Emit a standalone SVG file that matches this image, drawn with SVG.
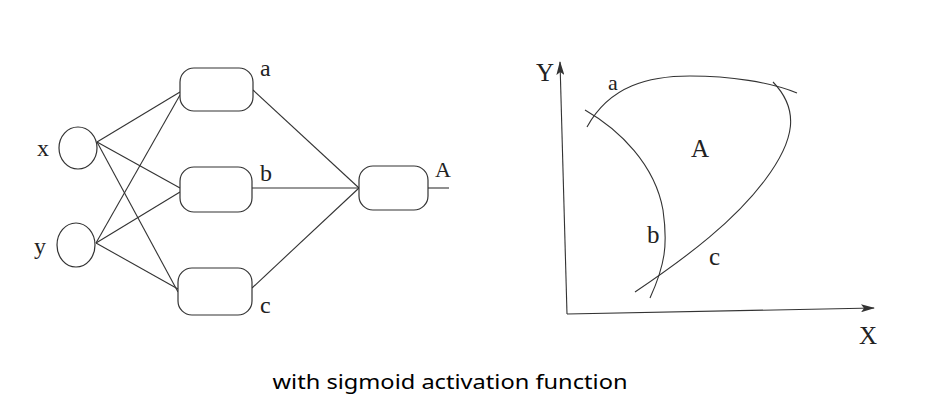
<svg xmlns="http://www.w3.org/2000/svg" width="938" height="408" viewBox="0 0 938 408">
<style>
.ln{stroke:#333;stroke-width:1.1;fill:none}
.nd{stroke:#333;stroke-width:1.2;fill:#fff}
.lb{font-family:"Liberation Serif",serif;font-size:24px;fill:#222}
.pl{font-family:"Liberation Serif",serif;font-size:25px;fill:#222}
.cap{font-family:"Noto Sans","Open Sans",sans-serif;font-size:19px;fill:#000}
</style>
<defs>
<marker id="ar" markerWidth="14" markerHeight="8" refX="13" refY="4" orient="auto" markerUnits="userSpaceOnUse">
<path d="M0,0 L14,4 L0,8 L3,4 Z" fill="#333"/>
</marker>
</defs>
<rect width="938" height="408" fill="#fff"/>
<g id="connectors">
<line class="ln" x1="97" y1="142" x2="180" y2="92"/>
<line class="ln" x1="97" y1="142" x2="180" y2="188"/>
<line class="ln" x1="97" y1="142" x2="178" y2="292"/>
<line class="ln" x1="96" y1="243" x2="180" y2="95"/>
<line class="ln" x1="96" y1="243" x2="180" y2="192"/>
<line class="ln" x1="96" y1="243" x2="178" y2="289"/>
<line class="ln" x1="253" y1="90" x2="359" y2="188"/>
<line class="ln" x1="252" y1="188" x2="359" y2="188"/>
<line class="ln" x1="252" y1="288" x2="359" y2="188"/>
<line class="ln" x1="428" y1="188" x2="449" y2="188"/>
</g>
<g id="node-x"><ellipse class="nd" cx="78" cy="148" rx="19" ry="21"/><text class="lb" x="37" y="156">x</text></g>
<g id="node-y"><ellipse class="nd" cx="76" cy="245" rx="19" ry="22"/><text class="lb" x="34" y="254">y</text></g>
<g id="node-a"><rect class="nd" x="180" y="68" width="73" height="43" rx="14"/><text class="lb" x="260" y="76">a</text></g>
<g id="node-b"><rect class="nd" x="180" y="167" width="72" height="45" rx="14"/><text class="lb" x="260" y="181">b</text></g>
<g id="node-c"><rect class="nd" x="178" y="268" width="74" height="47" rx="14"/><text class="lb" x="260" y="313">c</text></g>
<g id="node-A"><rect class="nd" x="359" y="166" width="69" height="44" rx="14"/><text class="lb" x="435" y="177" style="font-size:22px">A</text></g>
<g id="plot">
<path class="ln" d="M567,314 L560,62" marker-end="url(#ar)"/>
<path class="ln" d="M567,314 L874,308" marker-end="url(#ar)"/>
<text class="pl" x="536" y="81">Y</text>
<text class="pl" x="859" y="344">X</text>
<path class="ln" d="M587,127 C610,85 650,76 690,76 C730,76 770,82 797,93"/>
<path class="ln" d="M773,82 C800,110 795,140 765,180 C735,220 690,255 635,292"/>
<path class="ln" d="M585,110 C620,130 655,165 663,210 C668,245 665,265 650,298"/>
<text class="pl" x="608" y="90" style="font-size:22px">a</text>
<text class="pl" x="691" y="157">A</text>
<text class="pl" x="647" y="243">b</text>
<text class="pl" x="709" y="265">c</text>
</g>
<text class="cap" x="450" y="389" text-anchor="middle" textLength="355" lengthAdjust="spacingAndGlyphs">with sigmoid activation function</text>
</svg>
